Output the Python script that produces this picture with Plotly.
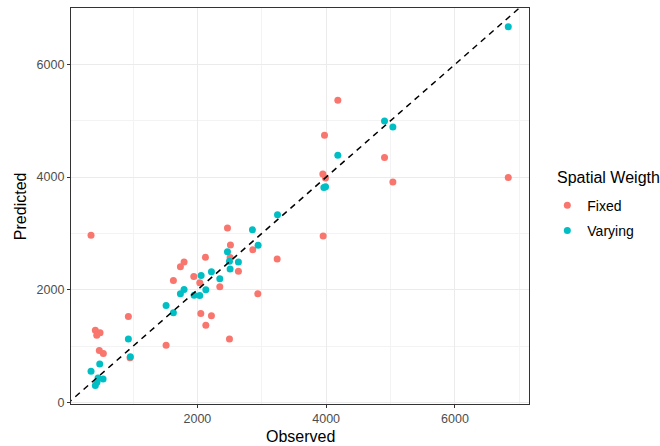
import plotly.graph_objects as go

fixed_obs = [348, 4181, 3974, 4906, 5036, 6828, 3948, 3989, 3953, 2467, 2513, 2861, 2508, 3239,
             2637, 2125, 1793, 1736, 1944, 1627, 2037, 2348, 2938, 2053, 2218, 2131, 2498, 1514,
             928, 415, 488, 437, 477, 539, 954]
fixed_pred = [2970, 5363, 4743, 4347, 3912, 3993, 4053, 3982, 2955, 3097, 2796, 2713, 2572, 2549,
              2330, 2577, 2496, 2412, 2235, 2165, 2124, 2053, 1929, 1580, 1540, 1373, 1126, 1019,
              1527, 1285, 1239, 1196, 926, 873, 796]
vary_obs = [6828, 4906, 5036, 4181, 3964, 3990, 3244, 2855, 2943, 2467, 2498, 2637, 2508, 2218,
            2058, 2348, 2131, 1793, 1736, 1949, 2037, 1514, 1627, 928, 959, 483, 348, 535, 457,
            415, 440]
vary_pred = [6666, 4996, 4890, 4389, 3816, 3830, 3333, 3067, 2790, 2678, 2506, 2496, 2372, 2319,
             2253, 2195, 2000, 2005, 1929, 1904, 1899, 1722, 1593, 1126, 814, 683, 554, 418, 435,
             301, 360]

x_range = [37, 7150]
y_range = [-25, 7000]

FONT = "Liberation Sans, Arial, Helvetica, sans-serif"

fig = go.Figure()
fig.add_trace(go.Scatter(x=fixed_obs, y=fixed_pred, mode="markers", name="Fixed",
                         legendgroup="f", marker=dict(color="#F8766D", size=7)))
fig.add_trace(go.Scatter(x=vary_obs, y=vary_pred, mode="markers", name="Varying",
                         legendgroup="v", marker=dict(color="#00BFC4", size=7)))
line_lo = min(x_range[0], y_range[0])
line_hi = max(x_range[1], y_range[1])
fig.add_trace(go.Scatter(x=[line_lo, line_hi], y=[line_lo, line_hi], mode="lines",
                         line=dict(color="black", width=1.5, dash="6px,5px"),
                         showlegend=False, hoverinfo="skip"))

axis_common = dict(
    showline=True, mirror=True, linecolor="#333333", linewidth=1.2,
    ticks="outside", ticklen=3, tickcolor="#333333", tickwidth=1,
    showgrid=True, gridcolor="#EBEBEB", gridwidth=1.1,
    zeroline=False, tick0=0, dtick=2000, automargin=False,
    minor=dict(showgrid=True, gridcolor="#F3F3F3", gridwidth=0.6, dtick=1000, tick0=0, ticks=""),
    tickfont=dict(family=FONT, size=12.5, color="#4D4D4D"),
)

fig.update_xaxes(range=x_range, **axis_common)
fig.update_yaxes(range=y_range, **axis_common)

fig.add_annotation(text="Observed", xref="paper", yref="paper", x=0.5, y=-0.081,
                   xanchor="center", yanchor="middle", showarrow=False,
                   font=dict(family=FONT, size=16, color="black"))
fig.add_annotation(text="Predicted", xref="paper", yref="paper", x=-0.111, y=0.5,
                   xanchor="center", yanchor="middle", showarrow=False, textangle=-90,
                   font=dict(family=FONT, size=16, color="black"))
fig.add_annotation(text="Spatial Weigth", xref="paper", yref="paper", x=1.0575, y=0.573,
                   xanchor="left", yanchor="middle", showarrow=False,
                   font=dict(family=FONT, size=16, color="black"))

fig.update_layout(
    width=660, height=446,
    margin=dict(l=71, r=131, t=8, b=42, autoexpand=False),
    plot_bgcolor="white", paper_bgcolor="white",
    font=dict(family=FONT),
    showlegend=True,
    legend=dict(
        font=dict(family=FONT, size=14, color="black"),
        x=1.040, xanchor="left", y=0.541, yanchor="top",
        tracegroupgap=4, itemsizing="trace",
    ),
)

fig.write_html("out.html", config={"displayModeBar": False},
               post_script="document.body.style.margin='0';document.body.style.overflow='hidden';")
